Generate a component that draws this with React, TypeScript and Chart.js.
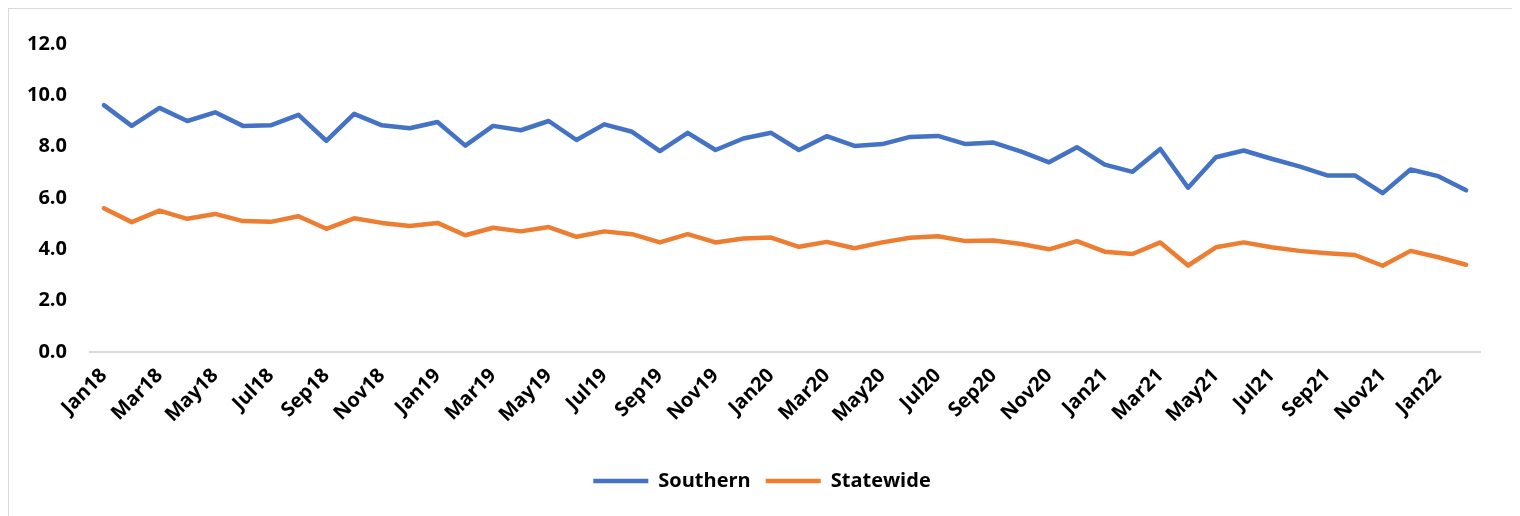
import React, { useEffect, useRef } from "react";
import { Chart, registerables } from "chart.js";

Chart.register(...registerables);

const categories: string[] = [
  "Jan18", "Feb18", "Mar18", "Apr18", "May18", "Jun18", "Jul18", "Aug18", "Sep18", "Oct18", "Nov18", "Dec18",
  "Jan19", "Feb19", "Mar19", "Apr19", "May19", "Jun19", "Jul19", "Aug19", "Sep19", "Oct19", "Nov19", "Dec19",
  "Jan20", "Feb20", "Mar20", "Apr20", "May20", "Jun20", "Jul20", "Aug20", "Sep20", "Oct20", "Nov20", "Dec20",
  "Jan21", "Feb21", "Mar21", "Apr21", "May21", "Jun21", "Jul21", "Aug21", "Sep21", "Oct21", "Nov21", "Dec21",
  "Jan22", "Feb22",
];

const southern: number[] = [
  9.62, 8.81, 9.51, 9.0, 9.34, 8.81, 8.83, 9.24, 8.23, 9.28, 8.83, 8.72,
  8.96, 8.04, 8.81, 8.64, 9.0, 8.26, 8.87, 8.58, 7.83, 8.54, 7.87, 8.32,
  8.54, 7.87, 8.41, 8.03, 8.1, 8.38, 8.42, 8.1, 8.16, 7.81, 7.39, 7.98,
  7.3, 7.02, 7.91, 6.4, 7.59, 7.85, 7.53, 7.23, 6.88, 6.88, 6.19, 7.11,
  6.85, 6.3,
];

const statewide: number[] = [
  5.6, 5.06, 5.51, 5.19, 5.38, 5.1, 5.07, 5.29, 4.8, 5.21, 5.03, 4.91,
  5.03, 4.55, 4.84, 4.7, 4.87, 4.49, 4.7, 4.59, 4.27, 4.59, 4.27, 4.42,
  4.46, 4.1, 4.29, 4.04, 4.27, 4.45, 4.51, 4.32, 4.34, 4.21, 4.0, 4.32,
  3.91, 3.82, 4.27, 3.37, 4.08, 4.27, 4.08, 3.94, 3.85, 3.78, 3.36, 3.94,
  3.69, 3.4,
];

const seriesNames: string[] = ["Southern", "Statewide"];
const seriesColors: string[] = ["#4472C4", "#ED7D31"];

const FONT = { family: "'Open Sans', sans-serif", size: 20, weight: "bold" as const };

export default function App() {
  const canvasRef = useRef<HTMLCanvasElement | null>(null);

  useEffect(() => {
    if (!canvasRef.current) return;
    const chart = new Chart(canvasRef.current, {
      type: "line",
      data: {
        labels: categories,
        datasets: [southern, statewide].map((d, i) => ({
          label: seriesNames[i],
          data: d,
          borderColor: seriesColors[i],
          backgroundColor: seriesColors[i],
          borderWidth: 4.5,
          borderCapStyle: "round" as const,
          borderJoinStyle: "round" as const,
          pointRadius: 0,
          pointHoverRadius: 0,
          tension: 0,
          fill: false,
        })),
      },
      options: {
        animation: false,
        responsive: false,
        layout: { padding: { top: 30, right: 0, bottom: 16, left: 0 } },
        plugins: {
          tooltip: { enabled: false },
          legend: {
            position: "bottom",
            labels: {
              usePointStyle: true,
              pointStyle: "line",
              pointStyleWidth: 55,
              boxHeight: 20,
              padding: 15,
              color: "#000000",
              font: FONT,
            },
          },
        },
        scales: {
          x: {
            offset: true,
            grid: { display: false, drawTicks: false },
            border: { display: true, color: "#d9d9d9", width: 2 },
            ticks: {
              autoSkip: false,
              minRotation: 45,
              maxRotation: 45,
              padding: 12,
              color: "#000000",
              font: FONT,
              callback: (_v: any, i: number) => (i % 2 === 0 ? categories[i] : ""),
            },
            afterFit: (s: any) => {
              s.height = 104;
            },
          },
          y: {
            min: 0,
            max: 12,
            grid: { display: false, drawTicks: false },
            border: { display: false },
            ticks: {
              stepSize: 2,
              padding: 23,
              color: "#000000",
              font: FONT,
              callback: (v: any) => Number(v).toFixed(1),
            },
            afterFit: (s: any) => {
              s.width = 81;
            },
          },
          spacer: {
            type: "linear",
            position: "right",
            display: true,
            grid: { display: false, drawTicks: false },
            border: { display: false },
            ticks: { display: false },
            afterFit: (s: any) => {
              s.width = 35;
            },
          },
        },
      },
    });
    return () => chart.destroy();
  }, []);

  return (
    <>
      <style>{`body{overflow:hidden}`}</style>
      <div
        style={{
          width: 1508,
          height: 510,
          boxSizing: "border-box",
          border: "1px solid #d9d9d9",
          background: "#ffffff",
        }}
      >
        <canvas ref={canvasRef} width={1506} height={508} style={{ display: "block" }} />
      </div>
    </>
  );
}
